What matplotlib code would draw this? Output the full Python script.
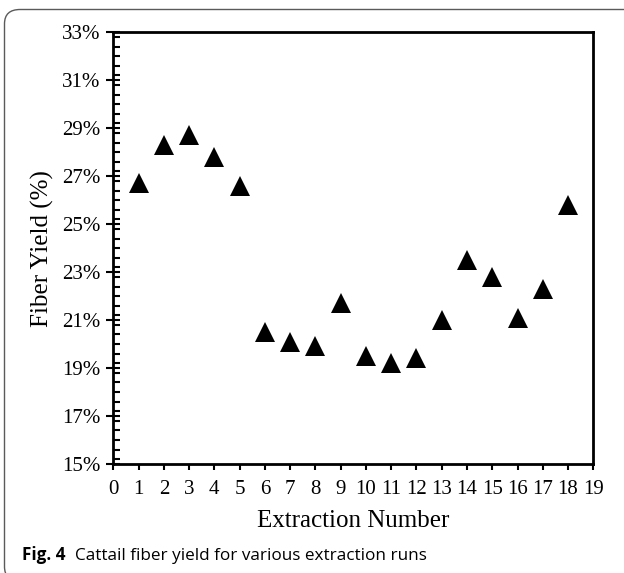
import numpy as np
import matplotlib
matplotlib.use("Agg")
import matplotlib.pyplot as plt
from matplotlib.ticker import MultipleLocator, FuncFormatter
from matplotlib.patches import FancyBboxPatch

# fiber yield (%) per extraction run
runs = list(range(1, 19))
yields = [26.7, 28.3, 28.7, 27.8, 26.6, 20.5, 20.1, 19.9, 21.7,
          19.5, 19.2, 19.4, 21.0, 23.5, 22.8, 21.1, 22.3, 25.8]

xticks = list(range(0, 20))
yticks = list(range(15, 34, 2))

W, H = 624, 573
fig = plt.figure(figsize=(W / 100, H / 100), dpi=100)

# rounded frame around the figure panel
frame = FancyBboxPatch((4.5 / W, -8 / H), 640 / W, (H - 9.5 + 8) / H,
                       boxstyle="round,pad=0,rounding_size=0.025",
                       transform=fig.transFigure, fill=False,
                       edgecolor="#5a5a5a", linewidth=1.0, clip_on=False)
fig.patches.append(frame)

ax = fig.add_axes([113.3 / W, 1 - 464 / H, 480 / W, (464 - 32.3) / H])
ax.plot(runs, yields, linestyle="none", marker="^", markersize=15,
        color="black", markeredgewidth=0)

ax.set_xlim(0, 19)
ax.set_ylim(15, 33)
ax.set_xticks(xticks)
ax.set_yticks(yticks)
ax.yaxis.set_minor_locator(MultipleLocator(0.4))
ax.yaxis.set_major_formatter(FuncFormatter(lambda v, p: "{:d}%".format(int(round(v)))))

serif = "Liberation Serif"
for sp in ax.spines.values():
    sp.set_linewidth(2.0)
ax.tick_params(axis="x", direction="out", length=4.5, width=1.5, pad=7,
               labelsize=15, labelfontfamily=serif)
ax.tick_params(axis="y", which="major", direction="inout", length=10, width=1.5,
               pad=4, labelsize=15, labelfontfamily=serif)
ax.tick_params(axis="y", which="minor", direction="in", length=5, width=1.5)

ax.set_xlabel("Extraction Number", fontsize=18, family=serif, labelpad=8)
ax.set_ylabel("Fiber Yield (%)", fontsize=18, family=serif, labelpad=6)

# caption: bold figure number then regular text
cap_y = 1 - 560 / H
t1 = fig.text(21.7 / W, cap_y, "Fig. 4", fontsize=12.3, fontweight="bold",
              family="Open Sans", va="baseline")
fig.canvas.draw()
bb = t1.get_window_extent(fig.canvas.get_renderer())
fig.text((bb.x1 + 10) / W, cap_y, "Cattail fiber yield for various extraction runs",
         fontsize=12.3, family="Open Sans", va="baseline")

fig.savefig("out.png", dpi=100)
